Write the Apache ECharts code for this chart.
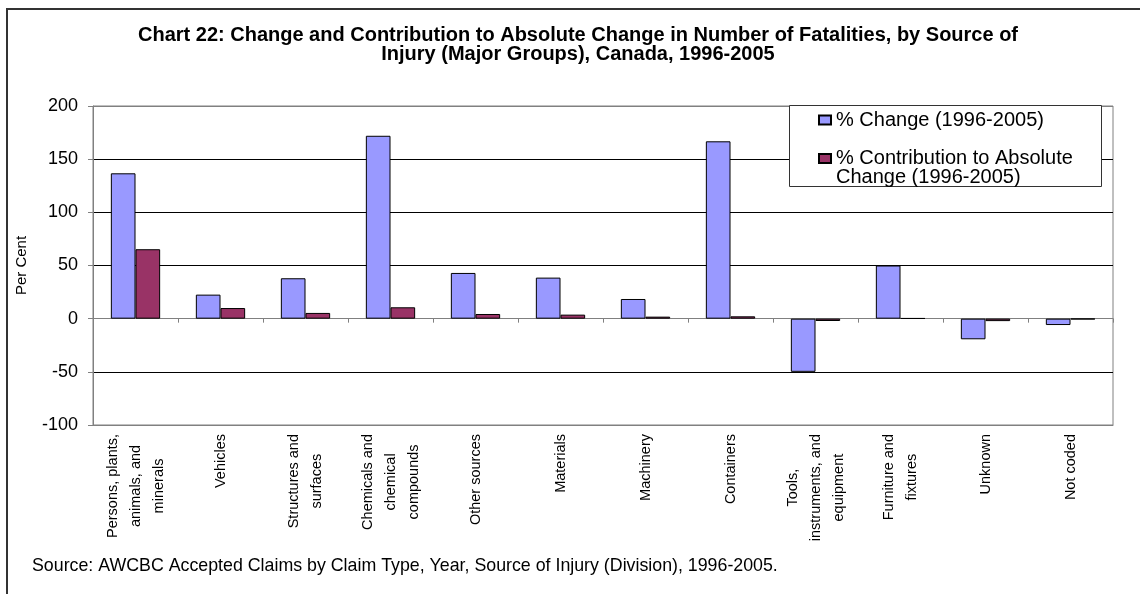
<!DOCTYPE html>
<html>
<head>
<meta charset="utf-8">
<script src="https://cdn.jsdelivr.net/npm/echarts@6/dist/echarts.min.js"></script>
<style>
  html, body { margin: 0; padding: 0; background: #fff; }
  #chart { width: 1140px; height: 594px; }
</style>
</head>
<body>
<div id="chart"></div>
<script>
// categories (line breaks as in the original axis labels)
const categories = [
  'Persons, plants,\nanimals, and\nminerals',
  'Vehicles',
  'Structures and\nsurfaces',
  'Chemicals and\nchemical\ncompounds',
  'Other sources',
  'Materials',
  'Machinery',
  'Containers',
  'Tools,\ninstruments, and\nequipment',
  'Furniture and\nfixtures',
  'Unknown',
  'Not coded'
]

// % change 1996-2005
const pctChange = [136.7, 22.6, 38, 172, 43, 38.6, 18.5, 166.8, -50, 50, -19.4, -6]
// % contribution to absolute change 1996-2005
const contribution = [65.3, 10, 5.4, 10.7, 4.4, 3.8, 1.9, 2.2, -2.2, 0.4, -2.3, -0.6]

const seriesNames = ['% Change (1996-2005)', '% Contribution to Absolute Change (1996-2005)']
const yMin = -100
const yMax = 200
const yStep = 50

const titleText = 'Chart 22: Change and Contribution to Absolute Change in Number of Fatalities, by Source of\nInjury (Major Groups), Canada, 1996-2005'
const sourceText = 'Source: AWCBC Accepted Claims by Claim Type, Year, Source of Injury (Division), 1996-2005.'

const FONT = '"Liberation Sans", Arial, sans-serif'

const chart = echarts.init(document.getElementById('chart'))

// grid line colours, bottom to top: edges grey, inner lines black
const splitColors = []
for (let v = yMin; v <= yMax; v += yStep) {
  splitColors.push(v === yMin || v === yMax || v === 0 ? '#808080' : '#000000')
}

const option = {
  animation: false,
  backgroundColor: '#fff',
  textStyle: { fontFamily: FONT },
  title: [
    {
      text: titleText,
      left: 578,
      top: 26,
      textAlign: 'center',
      padding: 0,
      textStyle: { fontFamily: FONT, fontSize: 20, fontWeight: 'bold', color: '#000', lineHeight: 19 }
    },
    {
      text: sourceText,
      left: 32,
      top: 557,
      padding: 0,
      textStyle: { fontFamily: FONT, fontSize: 17.8, fontWeight: 'normal', color: '#000' }
    }
  ],
  graphic: [
    {
      type: 'rect',
      silent: true,
      z: 0,
      shape: { x: 7, y: 9, width: 1160, height: 620 },
      style: { fill: 'none', stroke: '#333', lineWidth: 2 }
    },
    {
      type: 'rect',
      silent: true,
      z: 3,
      shape: { x: 789.5, y: 105.5, width: 312, height: 81 },
      style: { fill: '#fff', stroke: '#333', lineWidth: 1 }
    }
  ],
  legend: {
    data: seriesNames,
    orient: 'vertical',
    left: 818,
    top: 110,
    padding: 0,
    z: 5,
    selectedMode: false,
    icon: 'rect',
    itemWidth: 12,
    itemHeight: 9,
    itemGap: 0,
    textStyle: { fontFamily: FONT, fontSize: 20, color: '#000', lineHeight: 18.5 },
    formatter: name => name === seriesNames[1]
      ? '\n% Contribution to Absolute\nChange (1996-2005)'
      : name
  },
  grid: {
    left: 93,
    right: 27,
    top: 106,
    bottom: 169,
    show: true,
    borderColor: '#808080',
    borderWidth: 1,
    backgroundColor: 'transparent'
  },
  xAxis: [
    {
      type: 'category',
      data: categories,
      position: 'bottom',
      axisLine: { onZero: false, lineStyle: { color: '#808080', width: 1 } },
      axisTick: { show: false },
      splitLine: { show: false },
      axisLabel: {
        interval: 0,
        rotate: 90,
        margin: 9,
        color: '#000',
        fontFamily: FONT,
        fontSize: 14,
        formatter: v => v.split('\n').map(s => '{c|' + s + '}').join('\n'),
        rich: {
          c: { align: 'center', fontSize: 14.5, lineHeight: 23, fontFamily: FONT, color: '#000' }
        }
      }
    },
    {
      type: 'category',
      data: categories,
      position: 'top',
      axisLine: { onZero: true, lineStyle: { color: '#808080', width: 1 } },
      axisTick: { show: true, inside: true, length: 4, interval: 0, lineStyle: { color: '#808080' } },
      axisLabel: { show: false },
      splitLine: { show: false }
    }
  ],
  yAxis: {
    type: 'value',
    min: yMin,
    max: yMax,
    interval: yStep,
    name: 'Per Cent',
    nameLocation: 'middle',
    nameRotate: 90,
    nameGap: 64,
    nameTextStyle: { fontFamily: FONT, fontSize: 15, color: '#000' },
    axisLine: { show: true, lineStyle: { color: '#808080', width: 1 } },
    axisTick: { show: true, length: 5, lineStyle: { color: '#808080' } },
    axisLabel: { color: '#000', fontFamily: FONT, fontSize: 18, margin: 15 },
    splitLine: { show: true, lineStyle: { color: splitColors, width: 1 } }
  },
  series: [
    {
      name: seriesNames[0],
      type: 'bar',
      xAxisIndex: 0,
      data: pctChange,
      barGap: '0%',
      barCategoryGap: '42%',
      itemStyle: { color: '#9999FF', borderColor: '#000', borderWidth: 1 },
      emphasis: { disabled: true }
    },
    {
      name: seriesNames[1],
      type: 'bar',
      xAxisIndex: 0,
      data: contribution,
      barGap: '0%',
      barCategoryGap: '42%',
      itemStyle: { color: '#993366', borderColor: '#000', borderWidth: 1 },
      emphasis: { disabled: true }
    }
  ]
}

chart.setOption(option)
window.addEventListener('resize', () => chart.resize())
</script>
</body>
</html>
